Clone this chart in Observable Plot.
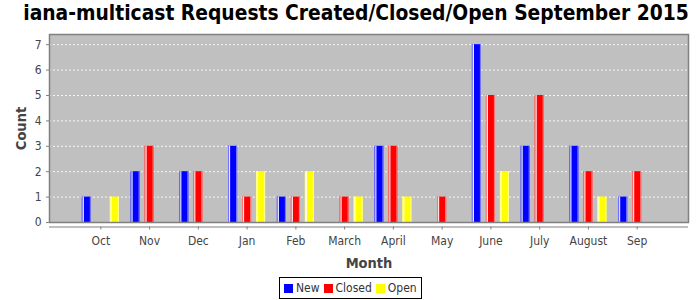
<!DOCTYPE html>
<html>
<head>
<meta charset="utf-8">
<script src="https://cdn.jsdelivr.net/npm/d3@7"></script>
<script src="https://cdn.jsdelivr.net/npm/@observablehq/plot@0.6"></script>
<style>
  html, body { margin: 0; padding: 0; background: #fff; }
  #wrap { position: relative; width: 700px; height: 300px; overflow: hidden; font-family: "DejaVu Sans Condensed", "DejaVu Sans", sans-serif; }
  #title { position: absolute; left: 6px; top: 1px; width: 700px; text-align: center; font-weight: bold; font-size: 20.8px; color: #000; white-space: nowrap; }
  #chart { position: absolute; left: 0; top: 0; }
  #legend { position: absolute; left: 279px; top: 277px; height: 20px; border: 1px solid #000; background: #fff; display: flex; align-items: center; padding: 0 4px; font-size: 12px; color: #333; }
  #legend .sw { display: inline-block; width: 9px; height: 9px; margin-right: 3px; }
  #legend .it { display: flex; align-items: center; margin-right: 4px; }
  #legend .it:last-child { margin-right: 0; }
  svg [aria-label="y-axis label"] text, svg [aria-label="x-axis label"] text { font-weight: bold; font-size: 14.5px; fill: #444; }
</style>
</head>
<body>
<div id="wrap">
  <div id="title">iana-multicast Requests Created/Closed/Open September 2015</div>
  <div id="chart"></div>
  <div id="legend"></div>
</div>
<script>
const months = ["Oct", "Nov", "Dec", "Jan", "Feb", "March", "April", "May", "June", "July", "August", "Sep"];
const newCounts    = [1, 2, 2, 3, 1, 0, 3, 0, 7, 3, 3, 1];
const closedCounts = [0, 3, 2, 1, 1, 1, 3, 1, 5, 5, 2, 2];
const openCounts   = [1, 0, 0, 2, 2, 1, 1, 0, 2, 0, 1, 0];
const seriesNames  = ["New", "Closed", "Open"];
const seriesColors = ["#0000ff", "#ff0000", "#ffff00"];
const edgeColors   = ["#8080ff", "#ff8080", "#ffff99"];
const yTicks = [0, 1, 2, 3, 4, 5, 6, 7];

const seriesValues = [newCounts, closedCounts, openCounts];
const offsets = [-14, 0, 14];

const barMarks = [];
seriesNames.forEach((name, si) => {
  const data = months.map((m, i) => ({month: m, value: seriesValues[si][i]})).filter(d => d.value > 0);
  barMarks.push(Plot.barY(data, {x: "month", y: "value", fill: seriesColors[si], dx: offsets[si]}));
  barMarks.push(Plot.barY(data, {x: "month", y: "value", fill: edgeColors[si], dx: offsets[si], insetRight: 8}));
  barMarks.push(Plot.barY(data, {x: "month", y: "value", fill: "#ffffff", dx: offsets[si], insetLeft: 1, insetRight: 7}));
  barMarks.push(Plot.barY(data, {x: "month", y: "value", fill: edgeColors[si], dx: offsets[si], insetLeft: 8}));
});

const chart = Plot.plot({
  width: 700,
  height: 300,
  marginTop: 34,
  marginBottom: 78,
  marginLeft: 49,
  marginRight: 12,
  style: {fontFamily: "'DejaVu Sans Condensed', 'DejaVu Sans', sans-serif", fontSize: "12px", color: "#444", background: "transparent", overflow: "visible"},
  x: {domain: months, paddingInner: 0.815, paddingOuter: 0.96, round: false},
  y: {domain: [0, 7.4]},
  marks: [
    Plot.frame({fill: "#c0c0c0"}),
    Plot.ruleY(yTicks.filter(t => t > 0), {stroke: "#ffffff", strokeOpacity: 0.85, strokeDasharray: "2,2"}),
    ...barMarks,
    Plot.frame({stroke: "#808080", strokeWidth: 1.5}),
    Plot.ruleY([0], {dy: 4.5, stroke: "#808080", strokeWidth: 1.2}),
    Plot.axisY({ticks: yTicks, tickSize: 3, tickPadding: 5, label: "Count", labelAnchor: "center", labelOffset: 34, labelArrow: "none", stroke: "#808080"}),
    Plot.axisX({tickSize: 3, tickPadding: 6, dy: 4.5, label: "Month", labelAnchor: "center", labelOffset: 45, labelArrow: "none", stroke: "#808080"})
  ]
});
document.getElementById("chart").appendChild(chart);

const legend = document.getElementById("legend");
seriesNames.forEach((n, i) => {
  const it = document.createElement("span");
  it.className = "it";
  const sw = document.createElement("span");
  sw.className = "sw";
  sw.style.background = seriesColors[i];
  it.appendChild(sw);
  it.appendChild(document.createTextNode(n));
  legend.appendChild(it);
});
</script>
</body>
</html>
